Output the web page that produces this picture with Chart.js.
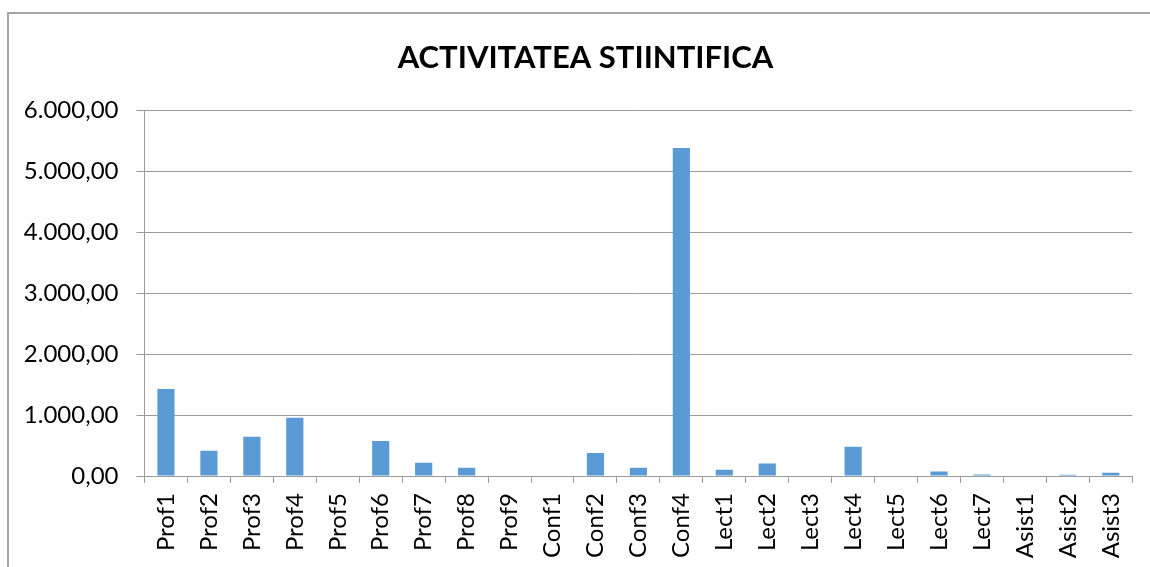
<!DOCTYPE html>
<html>
<head>
<meta charset="utf-8">
<script src="https://cdn.jsdelivr.net/npm/chart.js@4/dist/chart.umd.min.js"></script>
<style>
  html, body { margin: 0; padding: 0; background: #fff; }
  #chart { display: block; }
</style>
</head>
<body>
<canvas id="chart" width="1150" height="567"></canvas>
<script>
'use strict'

// date
const titlu = 'ACTIVITATEA STIINTIFICA';
const categorii = [
  'Prof1', 'Prof2', 'Prof3', 'Prof4', 'Prof5', 'Prof6', 'Prof7', 'Prof8', 'Prof9',
  'Conf1', 'Conf2', 'Conf3', 'Conf4',
  'Lect1', 'Lect2', 'Lect3', 'Lect4', 'Lect5', 'Lect6', 'Lect7',
  'Asist1', 'Asist2', 'Asist3',
];
const valori = [
  1426, 415, 644, 956, 0, 574, 218, 136, 0,
  0, 377, 136, 5380,
  103, 207, 0, 480, 0, 75, 26,
  0, 20, 54,
];
const yMin = 0;
const yMax = 6000;
const yPas = 1000;

const gri = '#9a9a9a';
const fontText = "Lato, 'Liberation Sans', sans-serif";

// 6000 -> "6.000,00"
function formatRo(v) {
  const parte = Math.round(v).toString().replace(/\B(?=(\d{3})+(?!\d))/g, '.');
  return parte + ',00';
}

// chenarul zonei graficului (ca in Excel)
const chenar = {
  id: 'chenar',
  beforeDraw(chart) {
    const c = chart.ctx;
    c.save();
    c.strokeStyle = '#a6a6a6';
    c.lineWidth = 2;
    c.beginPath();
    c.moveTo(8, chart.height);
    c.lineTo(8, 13);
    c.lineTo(chart.width, 13);
    c.stroke();
    c.restore();
  }
};

const ctx = document.getElementById('chart');

new Chart(ctx, {
  type: 'bar',
  data: {
    labels: categorii,
    datasets: [{
      label: titlu,
      data: valori,
      backgroundColor: '#5b9bd5',
      borderWidth: 0,
      barPercentage: 0.4,
      categoryPercentage: 1,
    }]
  },
  options: {
    responsive: false,
    animation: false,
    devicePixelRatio: 1,
    layout: { padding: { left: 21, right: 0, top: 0, bottom: 0 } },
    plugins: {
      legend: { display: false },
      tooltip: { enabled: false },
      title: {
        display: true,
        text: titlu,
        color: '#000',
        font: { family: fontText, size: 31, weight: 'bold' },
        padding: { top: 39, bottom: 34 },
      },
    },
    scales: {
      x: {
        grid: {
          display: true,
          drawOnChartArea: false,
          drawTicks: true,
          tickLength: 7,
          color: gri,
          offset: true,
        },
        border: { display: true, color: gri },
        ticks: {
          color: '#000',
          font: { family: fontText, size: 24 },
          minRotation: 90,
          maxRotation: 90,
          autoSkip: false,
          padding: 10,
        },
        afterFit(s) { s.height = 91; },
      },
      y: {
        min: yMin,
        max: yMax,
        grid: { color: gri, tickLength: 8 },
        border: { display: true, color: gri },
        ticks: {
          stepSize: yPas,
          color: '#000',
          font: { family: fontText, size: 24 },
          padding: 18,
          callback: (v) => formatRo(v),
        },
        afterFit(s) { s.width = 123.5; },
      },
      y2: {
        position: 'right',
        display: true,
        grid: { display: false },
        border: { display: false },
        ticks: { display: false },
        afterFit(s) { s.width = 17; },
      },
    },
  },
  plugins: [chenar],
});
</script>
</body>
</html>
